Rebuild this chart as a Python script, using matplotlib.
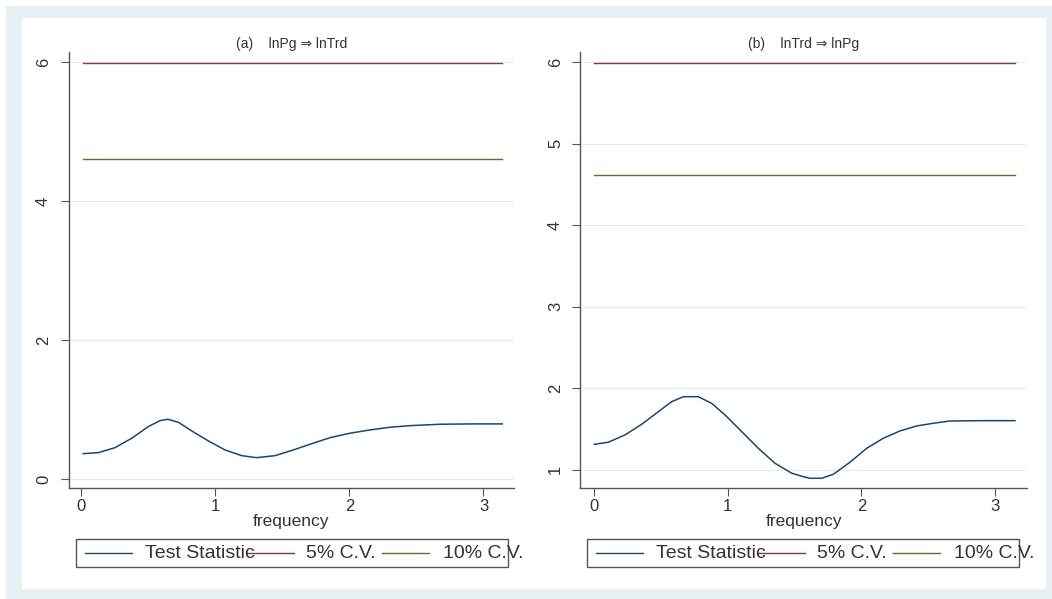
import matplotlib.pyplot as plt
from matplotlib.lines import Line2D
from matplotlib.patches import Rectangle

plt.rcParams['font.family'] = ['Liberation Sans', 'DejaVu Sans']

# panel (a): lnPg => lnTrd
freq_a = [0.016, 0.128, 0.253, 0.377, 0.501, 0.588, 0.646, 0.725, 0.825, 0.949, 1.073, 1.198,
          1.309, 1.446, 1.582, 1.707, 1.856, 2.005, 2.154, 2.303, 2.452, 2.676, 2.925, 3.14]
stat_a = [0.365, 0.379, 0.451, 0.586, 0.754, 0.840, 0.860, 0.817, 0.692, 0.548, 0.418, 0.336,
          0.307, 0.336, 0.418, 0.500, 0.595, 0.659, 0.706, 0.745, 0.768, 0.788, 0.793, 0.793]
# panel (b): lnTrd => lnPg
freq_b = [0.002, 0.107, 0.232, 0.357, 0.481, 0.581, 0.668, 0.78, 0.88, 0.98, 1.105, 1.229, 1.354,
          1.479, 1.565, 1.616, 1.703, 1.79, 1.915, 2.04, 2.164, 2.289, 2.414, 2.538, 2.663, 2.912, 3.149]
stat_b = [1.31, 1.335, 1.425, 1.556, 1.71, 1.833, 1.894, 1.894, 1.813, 1.67, 1.465, 1.261, 1.077,
          0.955, 0.913, 0.893, 0.893, 0.942, 1.09, 1.261, 1.384, 1.474, 1.535, 1.568, 1.596, 1.60, 1.60]
cv5 = 5.99
cv10 = 4.61
titles = ['(a)    lnPg \u21d2 lnTrd', '(b)    lnTrd \u21d2 lnPg']
legend_labels = ['Test Statistic', '5% C.V.', '10% C.V.']

c_stat = '#1a476f'
c_5 = '#90353b'
c_10 = '#55752f'
bg = '#e8eff1'
W, H = 1052, 599

fig = plt.figure(figsize=(W / 100, H / 100), dpi=100)
fig.patch.set_facecolor('white')
# stata-like outer frame
fig.patches.append(Rectangle((6 / W, 0), 1046 / W, 593 / H,
                             transform=fig.transFigure, color=bg, zorder=-2))
fig.patches.append(Rectangle((22 / W, 1 - 588 / H), 1023 / W, 570 / H,
                             transform=fig.transFigure, color='white', zorder=-1))

axa = fig.add_axes([69 / W, 1 - 488.3 / H, 444.9 / W, 436.5 / H])
axb = fig.add_axes([579.7 / W, 1 - 488.3 / H, 447.6 / W, 436.5 / H])

setups = [
    (axa, freq_a, stat_a, (-0.134, 6.15), [0, 2, 4, 6], (-0.09, 3.227), titles[0], 7),
    (axb, freq_b, stat_b, (0.77, 6.126), [1, 2, 3, 4, 5, 6], (-0.107, 3.241), titles[1], 6),
]
for ax, fx, fy, ylim, yt, xlim, title, ypad in setups:
    ax.plot(fx, fy, color=c_stat, lw=1.1)
    ax.plot([fx[0], fx[-1]], [cv5, cv5], color=c_5, lw=1.0)
    ax.plot([fx[0], fx[-1]], [cv10, cv10], color=c_10, lw=1.0)
    ax.set_ylim(*ylim)
    ax.set_xlim(*xlim)
    ax.set_yticks(yt)
    ax.set_xticks([0, 1, 2, 3])
    for y in yt:
        ax.axhline(y, color='#e6eef1', lw=0.8, zorder=0)
    for s in ['top', 'right']:
        ax.spines[s].set_visible(False)
    for s in ['left', 'bottom']:
        ax.spines[s].set_color('#555555')
        ax.spines[s].set_linewidth(1.0)
    ax.tick_params(axis='both', colors='#555555', labelcolor='#333333', length=6, width=0.8, labelsize=12)
    ax.tick_params(axis='y', pad=ypad)
    ax.tick_params(axis='x', pad=2)
    for lab in ax.get_yticklabels():
        lab.set_rotation(90)
        lab.set_va('center')
    ax.set_xlabel('frequency', fontsize=12.5, color='#333333', labelpad=0)
    ax.set_title(title, fontsize=10, color='#333333', pad=3)

# legends drawn like stata's (text spills past the box)
for x0 in [76.4, 587.2]:
    fig.patches.append(Rectangle((x0 / W, 1 - 567 / H), 431.9 / W, 28 / H,
                                 transform=fig.transFigure, fill=False, ec='#555555', lw=1.0))
    yl = 1 - 553 / H
    items = [(c_stat, 8.8, 55.4, 69), (c_5, 170.4, 217.7, 229.6), (c_10, 305.6, 352.9, 366.5)]
    for (col, l0, l1, tx), lab in zip(items, legend_labels):
        fig.lines.append(Line2D([(x0 + l0) / W, (x0 + l1) / W], [yl, yl],
                                transform=fig.transFigure, color=col, lw=1.0))
        fig.text((x0 + tx) / W, yl, lab, fontsize=14, color='#333333', va='center', ha='left')

fig.savefig('out.png', dpi=100)
